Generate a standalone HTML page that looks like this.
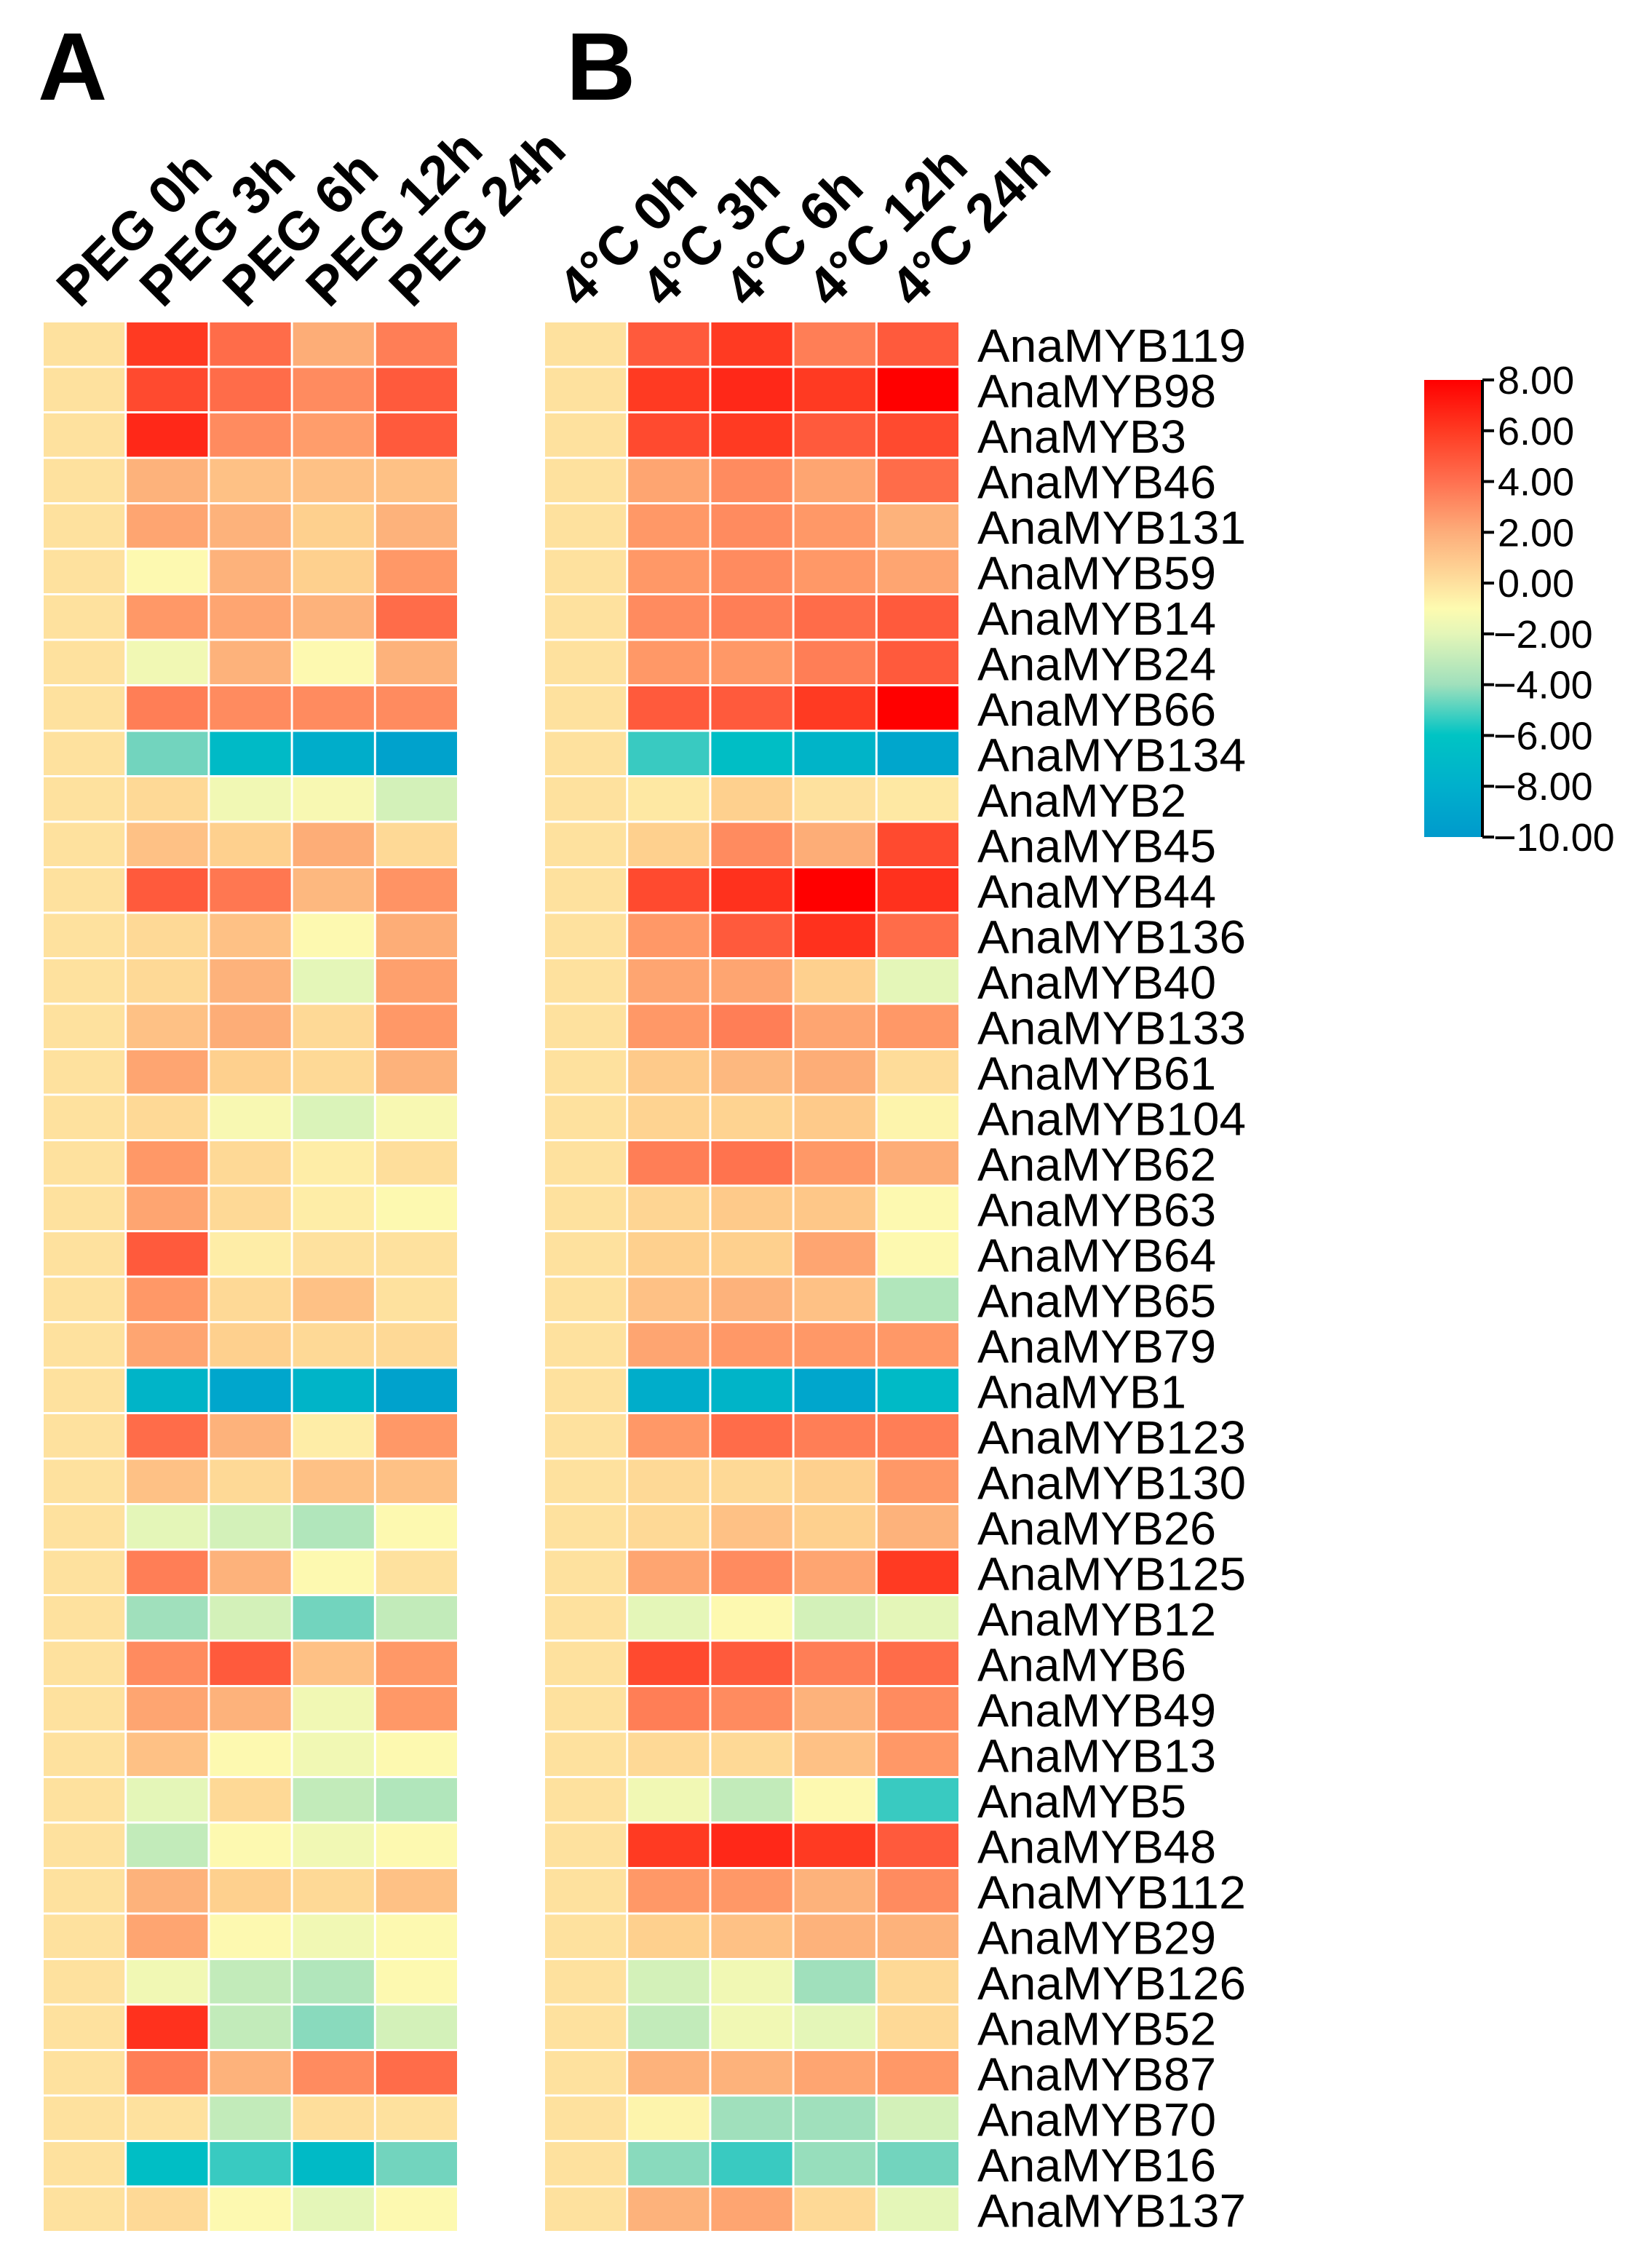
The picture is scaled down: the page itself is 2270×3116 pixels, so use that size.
<!DOCTYPE html>
<html><head><meta charset="utf-8"><style>
html,body{margin:0;padding:0;background:#fff;}
svg{display:block;}
text{font-family:"Liberation Sans",Arial,sans-serif;}
</style></head><body>
<svg id="s" width="2270" height="3116" viewBox="0 0 2270 3116" xmlns="http://www.w3.org/2000/svg">
<defs>
<linearGradient id="cb" x1="0" y1="0" x2="0" y2="1">
<stop offset="0" stop-color="#ff0000"/>
<stop offset="0.111" stop-color="#ff3a22"/>
<stop offset="0.222" stop-color="#ff7050"/>
<stop offset="0.333" stop-color="#fdad7a"/>
<stop offset="0.444" stop-color="#fee09e"/>
<stop offset="0.5" stop-color="#fdfbb0"/>
<stop offset="0.555" stop-color="#e4f6b8"/>
<stop offset="0.666" stop-color="#a0e0bc"/>
<stop offset="0.777" stop-color="#00c4c4"/>
<stop offset="0.888" stop-color="#00b0cc"/>
<stop offset="1" stop-color="#009acc"/>
</linearGradient>
</defs>
<text x="52" y="137" font-size="132" font-weight="bold">A</text>
<text x="778" y="137" font-size="132" font-weight="bold">B</text>
<rect x="1957" y="522" width="79" height="628" fill="url(#cb)"/>
<line x1="2037" y1="522" x2="2037" y2="1150" stroke="#000" stroke-width="4"/>
<g id="cbt"></g>
<g id="cells"></g>
</svg>
<script>
var stops=[[8,[255,0,0]],[7,[255,40,24]],[6,[255,58,34]],[5,[255,90,60]],[4,[255,126,86]],[3,[255,152,103]],[2,[253,178,123]],[1,[254,208,142]],[0,[254,225,158]],[-1,[253,249,176]],[-2,[228,246,184]],[-4,[160,224,188]],[-5,[114,212,190]],[-6,[0,192,196]],[-7,[0,180,200]],[-8,[0,166,204]],[-10,[0,150,204]]];
function col(v){if(v>=8)return'rgb(255,0,0)';for(var i=0;i<stops.length-1;i++){var a=stops[i],b=stops[i+1];if(v<=a[0]&&v>=b[0]){var t=(a[0]-v)/(a[0]-b[0]);var c=a[1].map(function(x,k){return Math.round(x+(b[1][k]-x)*t)});return'rgb('+c.join(',')+')';}}return'rgb(0,150,204)';}
var names=["AnaMYB119","AnaMYB98","AnaMYB3","AnaMYB46","AnaMYB131","AnaMYB59","AnaMYB14","AnaMYB24","AnaMYB66","AnaMYB134","AnaMYB2","AnaMYB45","AnaMYB44","AnaMYB136","AnaMYB40","AnaMYB133","AnaMYB61","AnaMYB104","AnaMYB62","AnaMYB63","AnaMYB64","AnaMYB65","AnaMYB79","AnaMYB1","AnaMYB123","AnaMYB130","AnaMYB26","AnaMYB125","AnaMYB12","AnaMYB6","AnaMYB49","AnaMYB13","AnaMYB5","AnaMYB48","AnaMYB112","AnaMYB29","AnaMYB126","AnaMYB52","AnaMYB87","AnaMYB70","AnaMYB16","AnaMYB137"];
var A=[[6,4.5,2.2,4],[5.5,4.5,3.5,5],[7,3.5,2.8,5],[2,1.5,1.5,1.5],[2.5,2,1,2],[-1,2,1,3],[3,2.5,2,4.5],[-1.5,2,-1,2],[4,3.5,3.5,3.5],[-5,-6.5,-7.5,-8.5],[0.5,-1.5,-1.2,-2.5],[1.5,1,2.2,0.5],[5,4.2,1.8,3.2],[0.5,1.5,-1,2.2],[0.5,2,-2,2.7],[1.5,2.2,0.5,3],[2.5,1,0.5,2],[0.5,-1.2,-2.3,-1.2],[3,0.5,-0.5,0.2],[2.5,0.5,-0.5,-1],[5,-0.5,0,0],[3,0.5,1.5,0],[2.5,1,0.5,0.5],[-7,-8,-7,-8.5],[4.5,2,-0.5,3],[1.5,0.5,1.5,1.5],[-2,-2.5,-3.5,-1],[4,2,-1,0],[-4,-2.5,-5,-3],[3.5,5,1.5,3],[2.5,2,-1.5,3],[1.5,-1,-1.5,-1],[-2,0.5,-3,-3.5],[-3,-1,-1.5,-1],[2,1,0.5,1.5],[2.5,-1,-1.5,-1],[-1.5,-3,-3.5,-1],[6.5,-3,-4.5,-2.5],[4,2,3.5,4.5],[0,-3,0.2,0],[-6.2,-5.5,-6.5,-5],[0.5,-1,-2,-1]];
var B=[[5,6,4,5],[6,7,6,8],[5.5,6,5,5.5],[2.5,3.5,2.5,4.5],[3,3.5,3,2],[3,3.5,3,2.5],[3.5,4,4.5,5],[3,3,4,5],[5,5,6,8],[-5.5,-6.2,-7,-8],[-0.3,1,0,-0.3],[1,3.5,2.2,5.5],[5.5,6.5,8,6.5],[3,5,6.5,4.5],[2.5,2.5,1,-2],[3,4,2.5,3],[1.2,1.8,2.2,0.3],[0.8,0.8,1.2,-0.8],[4,4.3,3,2.2],[0.7,1.2,1.3,-1],[1,1,2.5,-1],[1.5,2,1.5,-3.5],[2.5,3,3,3],[-7.5,-7,-8,-6.5],[3,4.5,4,4],[0.5,0.5,1,3],[0.5,1.5,1,2],[2.5,3.5,2.5,6],[-2,-1,-2.5,-2],[5.5,5,4,4.5],[4,3.5,2,3.5],[0.5,0.5,1.5,3],[-1.5,-3,-1,-5.5],[6,7,6,5],[3,3,2,3.5],[1,1.5,2,2],[-2.5,-1.5,-4,0.5],[-3,-1.5,-2,0.5],[2,2,2.5,3],[-0.8,-4,-4,-2.5],[-4.5,-5.5,-4.2,-5],[2,2.5,0.5,-2]];
var NS="http://www.w3.org/2000/svg";
function el(t,at,txt,p){var e=document.createElementNS(NS,t);for(var k in at)e.setAttribute(k,at[k]);if(txt!=null)e.textContent=txt;(p||document.getElementById('cells')).appendChild(e);return e;}
var top0=443,rh=62.5,cw=114.2;
for(var r=0;r<42;r++){
 var y=top0+r*rh;
 [[60,A[r]],[749,B[r]]].forEach(function(pp){
  var x0=pp[0],vals=[0].concat(pp[1]);
  for(var c=0;c<5;c++){el('rect',{x:(x0+c*cw).toFixed(1),y:y.toFixed(1),width:(cw-3).toFixed(1),height:(rh-3).toFixed(1),fill:col(vals[c])});}
 });
 var L=names[r].length;
 el('text',{x:1343,y:(y+54).toFixed(1),'font-size':64,textLength:(L*41).toString(),lengthAdjust:'spacingAndGlyphs'},names[r]);
}
var cl=["PEG 0h","PEG 3h","PEG 6h","PEG 12h","PEG 24h"],cl2=["4°C 0h","4°C 3h","4°C 6h","4°C 12h","4°C 24h"];
for(var c=0;c<5;c++){
 var x=60+c*cw+cw/2-8;
 el('text',{x:x,y:425,'font-size':74,'font-weight':'bold',transform:'rotate(-45 '+x+' 425)'},cl[c]);
 var x2=749+c*cw+cw/2-8;
 el('text',{x:x2,y:425,'font-size':74,'font-weight':'bold',transform:'rotate(-45 '+x2+' 425)'},cl2[c]);
}
var g=document.getElementById('cbt');
for(var i=0;i<10;i++){
 var v=8-2*i,y=522+i*(628/9);
 el('line',{x1:2037,y1:y,x2:2053,y2:y,stroke:'#000','stroke-width':4},null,g);
 var s=(v<0?'\u2212'+(-v).toFixed(2):v.toFixed(2));
 el('text',{x:(v<0?2052:2058),y:y+19,'font-size':54},s,g);
}
</script>
</body></html>
